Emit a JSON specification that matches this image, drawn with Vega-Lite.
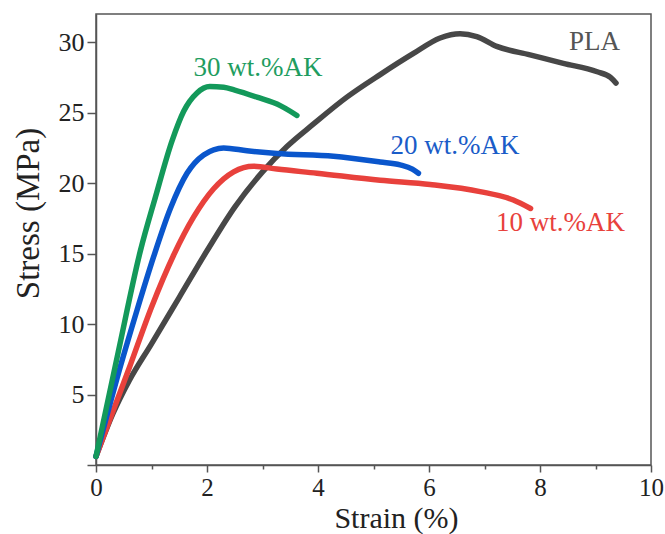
{
  "$schema": "https://vega.github.io/schema/vega-lite/v6.json",
  "autosize": "none",
  "width": 555,
  "height": 451,
  "padding": {"left": 96, "top": 14, "right": 14, "bottom": 69},
  "background": "white",
  "config": {
    "view": {"stroke": "#555555", "strokeWidth": 1.5},
    "font": "Liberation Serif"
  },
  "datasets": {
    "curves": [
      {"series": "PLA", "strain": 0, "stress": 0.6},
      {"series": "PLA", "strain": 0.3, "stress": 3.6},
      {"series": "PLA", "strain": 0.6, "stress": 6.0},
      {"series": "PLA", "strain": 1.0, "stress": 8.6},
      {"series": "PLA", "strain": 1.5, "stress": 11.9},
      {"series": "PLA", "strain": 2.0, "stress": 15.2},
      {"series": "PLA", "strain": 2.5, "stress": 18.3},
      {"series": "PLA", "strain": 3.0, "stress": 20.8},
      {"series": "PLA", "strain": 3.44, "stress": 22.6},
      {"series": "PLA", "strain": 3.92, "stress": 24.2},
      {"series": "PLA", "strain": 4.52, "stress": 26.1},
      {"series": "PLA", "strain": 5.12, "stress": 27.7},
      {"series": "PLA", "strain": 5.72, "stress": 29.2},
      {"series": "PLA", "strain": 6.2, "stress": 30.3},
      {"series": "PLA", "strain": 6.56, "stress": 30.6},
      {"series": "PLA", "strain": 6.86, "stress": 30.4},
      {"series": "PLA", "strain": 7.22, "stress": 29.7},
      {"series": "PLA", "strain": 7.82, "stress": 29.1},
      {"series": "PLA", "strain": 8.42, "stress": 28.5},
      {"series": "PLA", "strain": 9.03, "stress": 27.9},
      {"series": "PLA", "strain": 9.27, "stress": 27.5},
      {"series": "PLA", "strain": 9.37, "stress": 27.1},
      {"series": "10 wt.%AK", "strain": 0, "stress": 0.6},
      {"series": "10 wt.%AK", "strain": 0.6, "stress": 6.9},
      {"series": "10 wt.%AK", "strain": 1.0, "stress": 11.2},
      {"series": "10 wt.%AK", "strain": 1.4, "stress": 14.9},
      {"series": "10 wt.%AK", "strain": 1.76, "stress": 17.6},
      {"series": "10 wt.%AK", "strain": 2.12, "stress": 19.6},
      {"series": "10 wt.%AK", "strain": 2.48, "stress": 20.8},
      {"series": "10 wt.%AK", "strain": 2.84, "stress": 21.2},
      {"series": "10 wt.%AK", "strain": 3.26, "stress": 21.0},
      {"series": "10 wt.%AK", "strain": 3.98, "stress": 20.7},
      {"series": "10 wt.%AK", "strain": 5.12, "stress": 20.2},
      {"series": "10 wt.%AK", "strain": 6.02, "stress": 19.9},
      {"series": "10 wt.%AK", "strain": 6.92, "stress": 19.4},
      {"series": "10 wt.%AK", "strain": 7.52, "stress": 18.8},
      {"series": "10 wt.%AK", "strain": 7.83, "stress": 18.2},
      {"series": "20 wt.%AK", "strain": 0, "stress": 0.6},
      {"series": "20 wt.%AK", "strain": 0.44, "stress": 7.0},
      {"series": "20 wt.%AK", "strain": 0.74, "stress": 11.0},
      {"series": "20 wt.%AK", "strain": 1.04, "stress": 14.8},
      {"series": "20 wt.%AK", "strain": 1.34, "stress": 18.2},
      {"series": "20 wt.%AK", "strain": 1.64, "stress": 20.7},
      {"series": "20 wt.%AK", "strain": 1.94, "stress": 22.0},
      {"series": "20 wt.%AK", "strain": 2.3, "stress": 22.5},
      {"series": "20 wt.%AK", "strain": 2.72, "stress": 22.3},
      {"series": "20 wt.%AK", "strain": 3.26, "stress": 22.1},
      {"series": "20 wt.%AK", "strain": 4.28, "stress": 21.9},
      {"series": "20 wt.%AK", "strain": 5.12, "stress": 21.5},
      {"series": "20 wt.%AK", "strain": 5.48, "stress": 21.3},
      {"series": "20 wt.%AK", "strain": 5.7, "stress": 21.0},
      {"series": "20 wt.%AK", "strain": 5.81, "stress": 20.7},
      {"series": "30 wt.%AK", "strain": 0, "stress": 0.6},
      {"series": "30 wt.%AK", "strain": 0.4, "stress": 8.0},
      {"series": "30 wt.%AK", "strain": 0.8, "stress": 15.2},
      {"series": "30 wt.%AK", "strain": 1.07, "stress": 19.0},
      {"series": "30 wt.%AK", "strain": 1.37, "stress": 23.0},
      {"series": "30 wt.%AK", "strain": 1.58, "stress": 25.1},
      {"series": "30 wt.%AK", "strain": 1.82, "stress": 26.4},
      {"series": "30 wt.%AK", "strain": 2.05, "stress": 26.85},
      {"series": "30 wt.%AK", "strain": 2.3, "stress": 26.8},
      {"series": "30 wt.%AK", "strain": 2.5, "stress": 26.6},
      {"series": "30 wt.%AK", "strain": 2.9, "stress": 26.1},
      {"series": "30 wt.%AK", "strain": 3.32, "stress": 25.5},
      {"series": "30 wt.%AK", "strain": 3.5, "stress": 25.1},
      {"series": "30 wt.%AK", "strain": 3.62, "stress": 24.8}
    ],
    "labels": [
      {"series": "PLA", "strain": 8.98, "stress": 30.0},
      {"series": "10 wt.%AK", "strain": 8.37, "stress": 17.2},
      {"series": "20 wt.%AK", "strain": 6.47, "stress": 22.6},
      {"series": "30 wt.%AK", "strain": 2.92, "stress": 28.2}
    ]
  },
  "layer": [
    {
      "data": {"name": "curves"},
      "mark": {"type": "line", "strokeWidth": 5.5, "strokeJoin": "round", "strokeCap": "round", "interpolate": "monotone"},
      "encoding": {
        "x": {
          "field": "strain", "type": "quantitative",
          "scale": {"domain": [0, 10], "nice": false},
          "axis": {
            "values": [0, 1, 2, 3, 4, 5, 6, 7, 8, 9, 10],
            "labelExpr": "datum.value % 2 == 0 ? datum.label : ''",
            "tickSize": {"condition": {"test": "datum.value % 2 == 0", "value": 7}, "value": 4},
            "tickColor": "#555555", "tickWidth": 1.5,
            "domainColor": "#555555", "domainWidth": 1.5,
            "grid": false,
            "labelFont": "Liberation Serif", "labelFontSize": 25, "labelColor": "#222222",
            "labelPadding": 3, "labelFlush": false,
            "title": "Strain (%)", "titleFont": "Liberation Serif", "titleFontSize": 30,
            "titleFontWeight": "normal", "titleColor": "#222222", "titlePadding": 3, "titleX": 300
          }
        },
        "y": {
          "field": "stress", "type": "quantitative",
          "scale": {"domain": [0, 32], "nice": false},
          "axis": {
            "values": [0, 2.5, 5, 7.5, 10, 12.5, 15, 17.5, 20, 22.5, 25, 27.5, 30],
            "labelExpr": "datum.value % 5 == 0 && datum.value > 0 ? datum.label : ''",
            "tickSize": {"condition": {"test": "datum.value % 5 == 0", "value": 9}, "value": 4},
            "tickColor": "#555555", "tickWidth": 1.5,
            "domainColor": "#555555", "domainWidth": 1.5,
            "grid": false,
            "labelFont": "Liberation Serif", "labelFontSize": 26, "labelColor": "#222222",
            "labelPadding": 3, "labelFlush": false,
            "title": "Stress (MPa)", "titleFont": "Liberation Serif", "titleFontSize": 33,
            "titleFontWeight": "normal", "titleColor": "#222222", "titlePadding": 13, "titleY": 199
          }
        },
        "color": {
          "field": "series", "type": "nominal",
          "scale": {
            "domain": ["PLA", "10 wt.%AK", "20 wt.%AK", "30 wt.%AK"],
            "range": ["#474747", "#e8413c", "#0a56cc", "#13995a"]
          },
          "legend": null
        }
      }
    },
    {
      "data": {"name": "labels"},
      "mark": {"type": "text", "font": "Liberation Serif", "fontSize": 27, "align": "center", "baseline": "middle"},
      "encoding": {
        "x": {"field": "strain", "type": "quantitative"},
        "y": {"field": "stress", "type": "quantitative"},
        "text": {"field": "series", "type": "nominal"},
        "color": {
          "field": "series", "type": "nominal",
          "scale": {
            "domain": ["PLA", "10 wt.%AK", "20 wt.%AK", "30 wt.%AK"],
            "range": ["#555555", "#e8413c", "#1a5cc8", "#1f9d60"]
          },
          "legend": null
        }
      }
    }
  ],
  "resolve": {"scale": {"color": "independent"}}
}
